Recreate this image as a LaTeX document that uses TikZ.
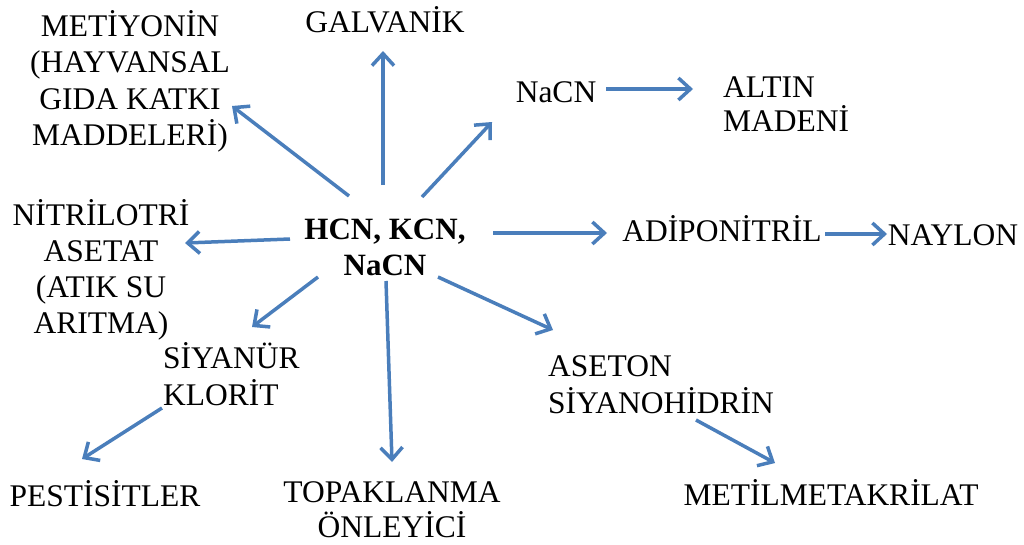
\documentclass[tikz,border=0pt]{standalone}
\usepackage{fontspec}
\setmainfont{Liberation Serif}
\usetikzlibrary{arrows.meta,calc}
\definecolor{arrblue}{HTML}{4A7EBB}
\begin{document}
\begin{tikzpicture}[x=1pt,y=-1pt,
  lbl/.style={inner sep=0pt, font=\fontsize{31.5}{37}\selectfont, align=center},
  arr/.style={draw=arrblue, line width=3.5pt, -{Straight Barb[length=12pt,width=22pt]}}]
\useasboundingbox (0,0) rectangle (1024,544);
% nodes (base = baseline of the last line)
\node[lbl,anchor=base,font=\fontsize{31.5}{36.5}\selectfont] (met) at (130,145.5) {METİYONİN\\(HAYVANSAL\\GIDA KATKI\\MADDELERİ)};
\node[lbl,anchor=base] (gal) at (385,32) {GALVANİK};
\node[lbl,anchor=base] (nacn) at (556,102) {NaCN};
\node[lbl,anchor=base west,align=left,font=\fontsize{31.5}{34}\selectfont] (altin) at (723,131) {ALTIN\\MADENİ};
\node[lbl,anchor=base,font=\fontsize{31.5}{36}\selectfont] (nit) at (101,333) {NİTRİLOTRİ\\ASETAT\\(ATIK SU\\ARITMA)};
\node[lbl,anchor=base,font=\fontsize{31}{36}\selectfont\bfseries] (hub) at (385,275) {HCN, KCN,\\NaCN};
\node[lbl,anchor=base] (adi) at (722,241) {ADİPONİTRİL};
\node[lbl,anchor=base] (nay) at (953,245) {NAYLON};
\node[lbl,anchor=base west,align=left] (siy) at (163,405) {SİYANÜR\\KLORİT};
\node[lbl,anchor=base west,align=left] (ase) at (548,413) {ASETON\\SİYANOHİDRİN};
\node[lbl,anchor=base,font=\fontsize{31.5}{35}\selectfont] (top) at (392,537) {TOPAKLANMA\\ÖNLEYİCİ};
\node[lbl,anchor=base] (pes) at (105,506) {PESTİSİTLER};
\node[lbl,anchor=base] (metm) at (831,505) {METİLMETAKRİLAT};
% connectors
\draw[arr] ($(hub.base)+(-36,-79)$) -- ($(met.base)+(102,-39.5)$);
\draw[arr] ($(hub.base)+(-2,-90)$) -- ($(gal.base)+(-2,19)$);
\draw[arr] ($(hub.base)+(37,-78)$) -- ($(nacn.base)+(-64,20)$);
\draw[arr] ($(nacn.base)+(50,-13)$) -- ($(altin.base west)+(-30,-42)$);
\draw[arr] ($(hub.base)+(-95,-36)$) -- ($(nit.base)+(84,-90)$);
\draw[arr] ($(hub.base)+(108,-42)$) -- ($(adi.base)+(-115,-8)$);
\draw[arr] ($(adi.base)+(103,-7)$) -- ($(nay.base)+(-66,-11)$);
\draw[arr] ($(hub.base)+(-67,2)$) -- ($(siy.base west)+(89,-78)$);
\draw[arr] ($(hub.base)+(1,6)$) -- ($(top.base)+(0,-75)$);
\draw[arr] ($(hub.base)+(53,2)$) -- ($(ase.base west)+(5,-83)$);
\draw[arr] ($(siy.base west)+(-1,3)$) -- ($(pes.base)+(-23,-47)$);
\draw[arr] ($(ase.base west)+(148,7)$) -- ($(metm.base)+(-56,-42)$);
\end{tikzpicture}
\end{document}
